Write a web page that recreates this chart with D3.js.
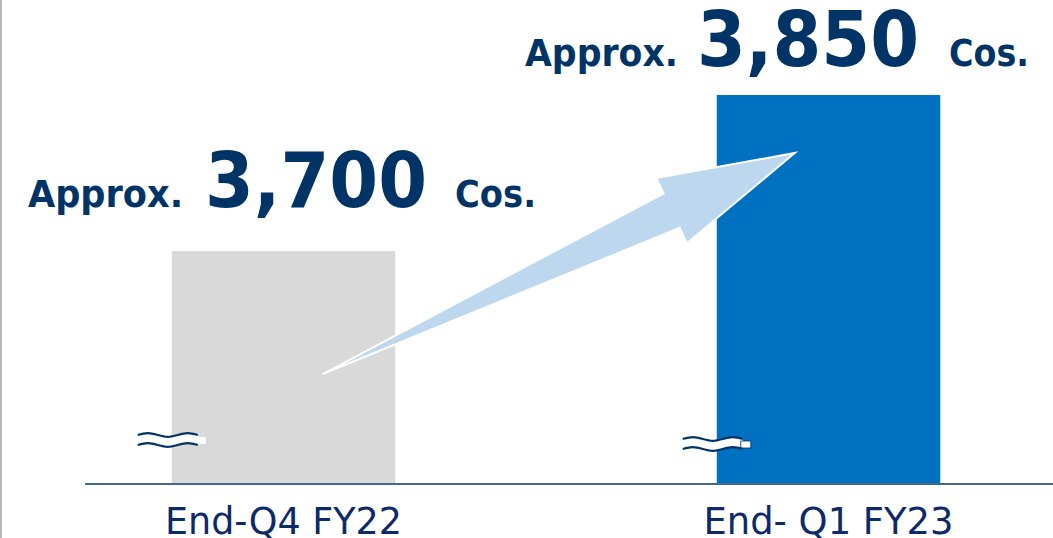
<!DOCTYPE html>
<html>
<head>
<meta charset="utf-8">
<script src="https://cdn.jsdelivr.net/npm/d3@7"></script>
<style>
  html, body { margin: 0; padding: 0; background: #fff; }
  svg { display: block; }
</style>
</head>
<body>
<script>
// data
const categories = ["End-Q4 FY22", "End- Q1 FY23"];
const values = [3700, 3850];
const valueLabels = ["3,700", "3,850"];
const prefix = "Approx.";
const suffix = "Cos.";
const barColors = ["#d9d9d9", "#0070c0"];

const width = 1053, height = 538;
const navy = "#003366";

const svg = d3.select("body")
  .append("svg")
  .attr("width", width)
  .attr("height", height);

// broken axis: bars start well above zero
const x = d3.scaleBand()
  .domain(categories)
  .range([90, 1022])
  .paddingInner(0.59)
  .paddingOuter(0.15);

const y = d3.scaleLinear()
  .domain([3476, 3850])
  .range([484, 95]);

const base = y.range()[0];

// left frame line
svg.append("line")
  .attr("x1", 1).attr("x2", 1)
  .attr("y1", 0).attr("y2", height)
  .attr("stroke", "#b8b8b8")
  .attr("stroke-width", 2);

// bars
svg.selectAll("rect.bar")
  .data(values)
  .enter()
  .append("rect")
  .attr("class", "bar")
  .attr("x", (d, i) => x(categories[i]))
  .attr("y", d => y(d))
  .attr("width", x.bandwidth())
  .attr("height", d => base - y(d))
  .attr("fill", (d, i) => barColors[i]);

// baseline
svg.append("line")
  .attr("x1", 85).attr("x2", width)
  .attr("y1", base).attr("y2", base)
  .attr("stroke", "#44698f")
  .attr("stroke-width", 2);

// axis break marks (≈) on the left edge of each bar
const wave = d3.line().curve(d3.curveNatural);
categories.forEach((c, i) => {
  const x0 = x(c) - 34;
  const by = base - (i === 0 ? 44 : 40);
  const pts = (yy) => d3.range(0, 61, 10).map((t, k) => [x0 + t, yy + [0, -1.8, 0, 1.8, 0, -1.8, 0][k]]);
  const top = pts(by - 5), bot = pts(by + 5);
  const g = svg.append("g");
  // white gap between the waves
  g.append("path")
    .attr("d", wave(top) + "L" + bot.slice().reverse().map(p => p.join(",")).join("L") + "Z")
    .attr("fill", "#fff");
  g.append("rect")
    .attr("x", x0 + 58).attr("y", by - 3)
    .attr("width", 10).attr("height", 7)
    .attr("fill", "#fff")
    .attr("stroke", i === 0 ? "none" : navy)
    .attr("stroke-width", 0.8);
  [top, bot].forEach(p => {
    g.append("path")
      .attr("d", wave(p))
      .attr("fill", "none")
      .attr("stroke", navy)
      .attr("stroke-width", 2.2);
  });
});

// growth arrow from the grey bar to the blue bar
const tail = [x(categories[0]) + 151, y(values[0]) + 123];
const tip = [x(categories[1]) + 78, y(values[1]) + 58];
const dx = tip[0] - tail[0], dy = tip[1] - tail[1];
const len = Math.hypot(dx, dy);
const ux = dx / len, uy = dy / len, nx = -uy, ny = ux;
const headLen = 136, headHalf = 36, neckHalf = 19;
const at = (a, p) => [tail[0] + ux * a + nx * p, tail[1] + uy * a + ny * p];
const arrowPts = [
  at(0, 0),
  at(len - headLen, -neckHalf),
  at(len - headLen, -headHalf),
  at(len, 0),
  at(len - headLen, headHalf),
  at(len - headLen, neckHalf)
];
svg.append("path")
  .attr("d", "M" + arrowPts.map(p => p.join(",")).join("L") + "Z")
  .attr("fill", "#bdd7ee")
  .attr("stroke", "#fff")
  .attr("stroke-width", 2)
  .attr("stroke-linejoin", "miter");

// value labels: prefix, number, suffix
const labelRows = [
  { baseline: 207, xs: [28, 205, 455], lens: [155, 222, 81] },
  { baseline: 66, xs: [525, 697, 949], lens: [153, 222, 80] }
];
const font = "'DejaVu Sans', Verdana, sans-serif";
labelRows.forEach((row, i) => {
  const parts = [
    { t: prefix, size: 37 },
    { t: valueLabels[i], size: 76 },
    { t: suffix, size: 37 }
  ];
  parts.forEach((p, k) => {
    svg.append("text")
      .attr("x", row.xs[k])
      .attr("y", row.baseline)
      .attr("font-family", font)
      .attr("font-weight", "bold")
      .attr("font-size", p.size)
      .attr("textLength", row.lens[k])
      .attr("lengthAdjust", "spacingAndGlyphs")
      .attr("fill", navy)
      .text(p.t);
  });
});

// category labels
svg.selectAll("text.cat")
  .data(categories)
  .enter()
  .append("text")
  .attr("class", "cat")
  .attr("x", d => x(d) + x.bandwidth() / 2)
  .attr("y", 534)
  .attr("text-anchor", "middle")
  .attr("font-family", font)
  .attr("font-size", 37)
  .attr("textLength", (d, i) => i === 0 ? 237 : 250)
  .attr("lengthAdjust", "spacingAndGlyphs")
  .attr("fill", "#0c2a6a")
  .text(d => d);
</script>
</body>
</html>
